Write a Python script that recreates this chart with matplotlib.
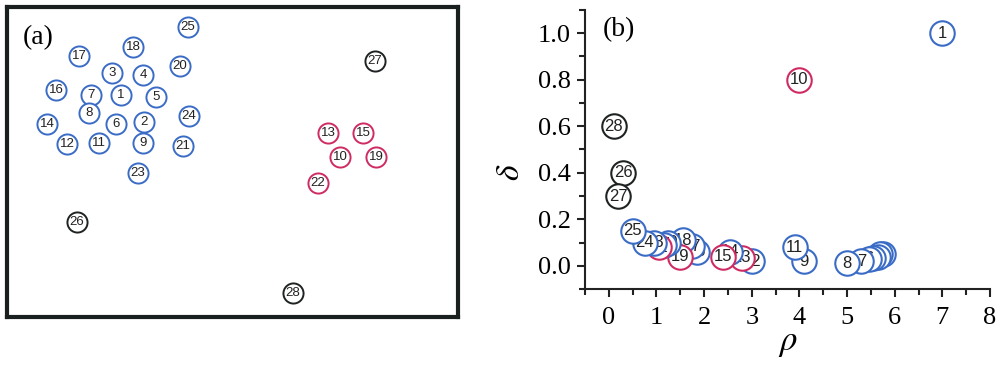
# plot.py
# Panel (a): puntos del conjunto; panel (b): grafico de decision (rho, delta)
import matplotlib.pyplot as plt
from matplotlib.ticker import MultipleLocator

plt.rcParams["mathtext.fontset"] = "stix"

# ---- datos ----
ids = list(range(1, 29))
# posicion de cada punto en el panel (a) (unidades arbitrarias)
pos_x = [121, 144, 112, 143, 156, 116, 91, 89, 143, 340, 99, 67, 328, 47,
         363, 56, 79, 133, 376, 180, 183, 318, 138, 189, 188, 77, 375, 293]
pos_y = [95, 122, 73, 75, 97, 124, 95, 113, 143, 157, 143, 144, 133, 124,
         133, 90, 56, 47, 157, 66, 146, 183, 173, 116, 27, 222, 61, 293]
# densidad local rho y distancia delta (panel b)
rho = [7.0, 5.75, 5.7, 5.65, 5.55, 5.45, 5.3, 5.0, 4.1, 4.0, 3.9, 3.0, 2.8, 2.55,
       2.4, 1.85, 1.75, 1.55, 1.5, 1.25, 1.15, 1.05, 0.95, 0.75, 0.5, 0.3, 0.2, 0.1]
delta = [1.0, 0.05, 0.05, 0.04, 0.035, 0.03, 0.02, 0.01, 0.02, 0.8, 0.08, 0.02,
         0.035, 0.06, 0.04, 0.06, 0.085, 0.11, 0.04, 0.10, 0.09, 0.08, 0.10,
         0.10, 0.15, 0.4, 0.3, 0.6]
# grupo: 0 = cluster azul, 1 = cluster rojo, 2 = atipicos
grupo = [0, 0, 0, 0, 0, 0, 0, 0, 0, 1, 0, 0, 1, 0, 1, 0, 0, 0, 1, 0, 0, 1, 0,
         0, 0, 2, 2, 2]

colores = {0: "#3a6cc6", 1: "#cf2b63", 2: "#1e2222"}

fig = plt.figure(figsize=(10, 3.65), dpi=100)

# ---- panel (a) ----
ax1 = fig.add_axes([0.007, 0.132, 0.451, 0.849])
ax1.set_xlim(7, 458)
ax1.set_ylim(317, 7)
ax1.set_xticks([])
ax1.set_yticks([])
for s in ax1.spines.values():
    s.set_linewidth(3)
    s.set_color("#1a1f1f")
for k, (i, x, y, g) in enumerate(zip(ids, pos_x, pos_y, grupo)):
    ax1.scatter(x, y, s=210, facecolor="white", edgecolor=colores[g], linewidth=1.4, zorder=3 + 2 * k)
    ax1.text(x, y, str(i), ha="center", va="center", fontsize=9.5,
             family="Liberation Sans", color="#222222", zorder=4 + 2 * k)
ax1.text(0.035, 0.9, "(a)", transform=ax1.transAxes, fontsize=20,
         family="Liberation Serif", ha="left", va="center")

# ---- panel (b) ----
ax2 = fig.add_axes([0.585, 0.208, 0.405, 0.765])
ax2.set_xlim(-0.5, 8)
ax2.set_ylim(-0.1, 1.1)
# cada circulo tapa la etiqueta de los anteriores, como en el original
for k, (i, r, d, g) in enumerate(zip(ids, rho, delta, grupo)):
    ax2.scatter(r, d, s=310, facecolor="white", edgecolor=colores[g], linewidth=1.5,
                zorder=3 + 2 * k, clip_on=False)
    ax2.text(r, d, str(i), ha="center", va="center", fontsize=12,
             family="Liberation Sans", color="#222222", zorder=4 + 2 * k)

ax2.spines["top"].set_visible(False)
ax2.spines["right"].set_visible(False)
for k in ["left", "bottom"]:
    ax2.spines[k].set_linewidth(1.5)
    ax2.spines[k].set_color("#222222")
ax2.xaxis.set_major_locator(MultipleLocator(1))
ax2.xaxis.set_minor_locator(MultipleLocator(0.5))
ax2.yaxis.set_major_locator(MultipleLocator(0.2))
ax2.yaxis.set_minor_locator(MultipleLocator(0.1))
ax2.set_xticks(range(0, 9))
ax2.set_yticks([0.0, 0.2, 0.4, 0.6, 0.8, 1.0])
ax2.set_yticklabels(["0.0", "0.2", "0.4", "0.6", "0.8", "1.0"])
ax2.tick_params(which="major", direction="out", length=6, width=1.5, color="#222222",
                labelsize=19, pad=4)
ax2.tick_params(axis="x", which="major", pad=7)
ax2.tick_params(which="minor", direction="out", length=4, width=1.5, color="#222222")
for lab in ax2.get_xticklabels() + ax2.get_yticklabels():
    lab.set_family("Liberation Serif")

ax2.set_xlabel(r"$\rho$", fontsize=25)
ax2.xaxis.set_label_coords(0.5, -0.13)
ax2.set_ylabel(r"$\delta$", fontsize=24)
ax2.yaxis.set_label_coords(-0.145, 0.417)
ax2.text(0.044, 0.93, "(b)", transform=ax2.transAxes, fontsize=20,
         family="Liberation Serif", ha="left", va="center")

fig.savefig("out.png", dpi=100)
